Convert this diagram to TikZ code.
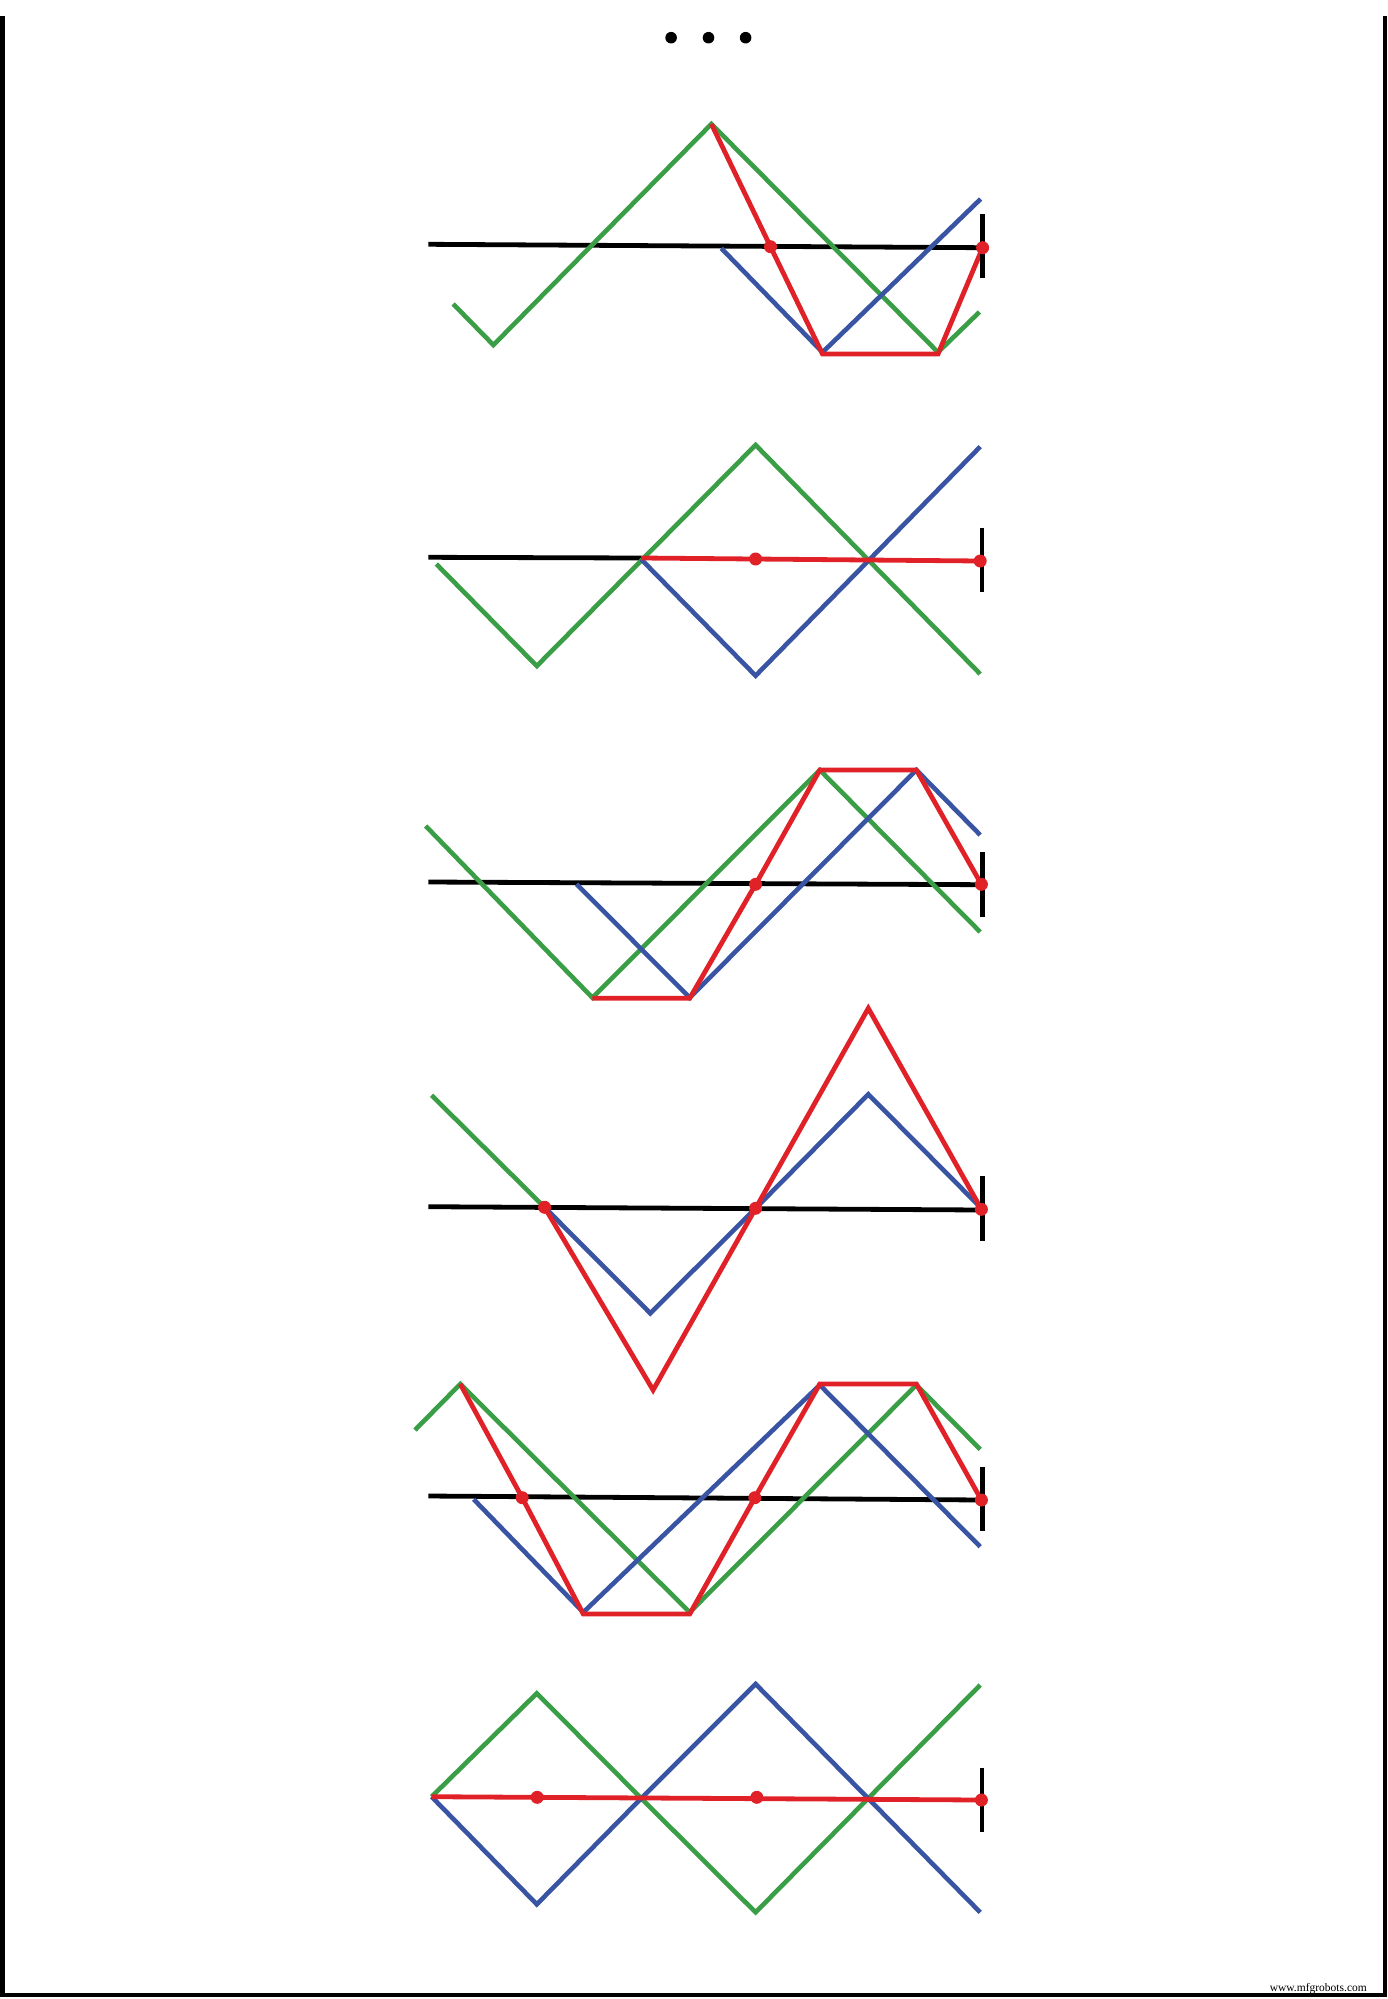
\documentclass[tikz,border=0pt]{standalone}
\usepackage{fontspec}
\setmainfont{Liberation Serif}
\begin{document}
\begin{tikzpicture}[x=1pt,y=-1pt,
  axis/.style={black,line width=4.8pt},
  tickmark/.style={black,line width=4.4pt},
  gline/.style={draw=gcol,line width=4.6pt,line join=miter},
  bline/.style={draw=bcol,line width=4.6pt,line join=miter},
  rline/.style={draw=rcol,line width=4.8pt,line join=miter},
  rdot/.style={fill=rcol},
  frameline/.style={black,line width=4.6pt}]
\definecolor{gcol}{RGB}{58,158,70}
\definecolor{bcol}{RGB}{56,84,162}
\definecolor{rcol}{RGB}{224,34,40}
\useasboundingbox (0,0) rectangle (1388,1999);
% frame
\draw[frameline] (2.3,16) -- (2.3,1995) -- (1385,1995) -- (1385,16);
\node[anchor=base east,font=\fontsize{11.5}{11.5}\selectfont,inner sep=0pt] (wm) at (1367,1991) {www.mfgrobots.com};
% ellipsis
\foreach \x in {671.1,708.5,745.6} \fill[black] (\x,37.7) circle (5.8);

% ---------- panel 1 ----------
\draw[axis] (428.4,244.3) -- (982.6,247.7);
\draw[gline] (453.2,304) -- (493.4,345) -- (711.4,124) -- (938.0,352.3) -- (979.4,312);
\draw[bline] (721.3,248.3) -- (822.5,352.3) -- (980.6,199);
\draw[rline] (711.4,124) -- (770.5,246.7) -- (822.5,354) -- (938.0,354) -- (982.6,247.7);
\draw[tickmark] (982.6,214.3) -- (982.6,278.3);
\fill[rdot] (770.5,246.7) circle (6.5);
\fill[rdot] (982.6,247.7) circle (6.5);

% ---------- panel 2 ----------
\draw[axis] (428.4,557.3) -- (641.2,558);
\draw[gline] (436.3,564) -- (536.8,666) -- (755.6,445) -- (980.2,674);
\draw[bline] (641.2,559.3) -- (755.6,675.7) -- (980.2,446.7);
\draw[rline] (641.2,558) -- (980.2,561);
\draw[tickmark] (982.1,527.7) -- (982.1,592.3);
\fill[rdot] (755.6,559) circle (6.5);
\fill[rdot] (980.2,561) circle (6.5);

% ---------- panel 3 ----------
\draw[axis] (428.4,882) -- (982.6,884.7);
\draw[gline] (425.7,826) -- (592.4,997.7) -- (819.8,770) -- (980.2,932);
\draw[bline] (576.5,884) -- (689.7,997.7) -- (916.4,770) -- (980.2,835);
\draw[rline] (592.4,998.3) -- (689.7,998.3) -- (755.6,884.3) -- (819.8,770) -- (916.4,770) -- (981.4,884.3);
\draw[tickmark] (982.6,852.3) -- (982.6,916.7);
\fill[rdot] (755.6,884.3) circle (6.5);
\fill[rdot] (981.4,884.3) circle (6.5);

% ---------- panel 4 ----------
\draw[axis] (428.4,1206.7) -- (982.6,1210);
\draw[gline] (431.6,1095.3) -- (544.6,1207.3);
\draw[bline] (544.6,1207.3) -- (650.3,1313.3) -- (755.6,1208.3) -- (868.3,1094.3) -- (981.4,1208.3);
\draw[rline] (544.6,1207.3) -- (653.1,1390) -- (755.6,1208.3) -- (868.3,1008.3) -- (981.4,1209.3);
\draw[tickmark] (982.6,1176) -- (982.6,1240.7);
\fill[rdot] (544.6,1207.3) circle (6.5);
\fill[rdot] (755.6,1208.3) circle (6.5);
\fill[rdot] (981.4,1209.3) circle (6.5);

% ---------- panel 5 ----------
\draw[axis] (428.4,1496) -- (982.6,1500);
\draw[gline] (415.0,1430) -- (460.3,1384) -- (689.7,1612.3) -- (916.4,1385) -- (980.2,1449.3);
\draw[bline] (473.7,1499.3) -- (583.3,1612.3) -- (819.8,1385) -- (980.2,1546.7);
\draw[rline] (460.3,1384) -- (522.2,1497.7) -- (583.3,1614) -- (689.7,1614) -- (754.8,1497.7) -- (819.8,1384) -- (916.4,1384) -- (981.4,1500);
\draw[tickmark] (982.6,1466.7) -- (982.6,1531);
\fill[rdot] (522.2,1497.7) circle (6.5);
\fill[rdot] (754.8,1497.7) circle (6.5);
\fill[rdot] (981.4,1500) circle (6.5);

% ---------- panel 6 ----------
\draw[gline] (431.6,1796.7) -- (536.8,1693.3) -- (641.2,1798.3) -- (755.6,1912.3) -- (980.2,1685);
\draw[bline] (431.6,1796.7) -- (536.8,1904.3) -- (641.2,1798.3) -- (755.6,1684) -- (980.2,1912.3);
\draw[rline] (431.6,1796.7) -- (981.4,1800);
\draw[tickmark] (982.1,1767.7) -- (982.1,1832.3);
\fill[rdot] (537.2,1797.3) circle (6.5);
\fill[rdot] (756.8,1797.3) circle (6.5);
\fill[rdot] (981.4,1800) circle (6.5);
\end{tikzpicture}
\end{document}
